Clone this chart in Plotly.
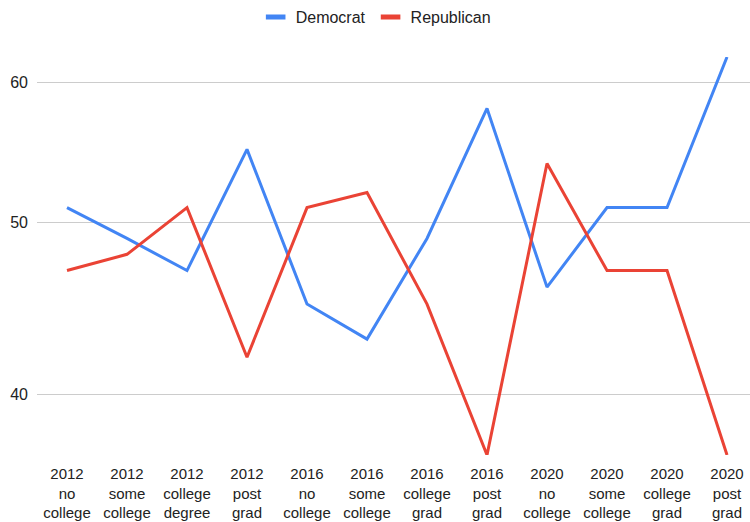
import plotly.graph_objects as go
import math

categories = ["2012<br>no<br>college", "2012<br>some<br>college", "2012<br>college<br>degree", "2012<br>post<br>grad",
              "2016<br>no<br>college", "2016<br>some<br>college", "2016<br>college<br>grad", "2016<br>post<br>grad",
              "2020<br>no<br>college", "2020<br>some<br>college", "2020<br>college<br>grad", "2020<br>post<br>grad"]
democrat = [51, 49, 47, 55, 45, 43, 49, 58, 46, 51, 51, 62]
republican = [47, 48, 51, 42, 51, 52, 45, 37, 54, 47, 47, 37]
y_ticks = [40, 50, 60]

BLUE = "#4285F4"
RED = "#EA4335"
FONT = "Liberation Sans, Arial, sans-serif"

xs = list(range(len(categories)))
fig = go.Figure()
fig.add_trace(go.Scatter(x=xs, y=democrat, mode="lines", line=dict(color=BLUE, width=3),
                         showlegend=False, hoverinfo="skip"))
fig.add_trace(go.Scatter(x=xs, y=republican, mode="lines", line=dict(color=RED, width=3),
                         showlegend=False, hoverinfo="skip"))
# legend swatches
fig.add_trace(go.Scatter(x=[None], y=[None], mode="markers", name="Democrat",
                         marker=dict(symbol="line-ew", size=14, line=dict(color=BLUE, width=5))))
fig.add_trace(go.Scatter(x=[None], y=[None], mode="markers", name="Republican",
                         marker=dict(symbol="line-ew", size=14, line=dict(color=RED, width=5))))

fig.update_layout(
    width=750, height=522,
    margin=dict(l=37, r=0, t=57, b=67),
    paper_bgcolor="white", plot_bgcolor="white",
    font=dict(family=FONT, size=16, color="#222222"),
    legend=dict(orientation="h", x=0.475, xanchor="center", y=1, yref="container", yanchor="top",
                font=dict(size=16, color="#222222"), itemwidth=30, bgcolor="rgba(0,0,0,0)"),
    showlegend=True,
)
fig.update_xaxes(range=[-0.5, 11.383], tickvals=xs, ticktext=categories, showgrid=False,
                 zeroline=False, showline=False, ticks="", tickfont=dict(size=15, color="#222222"),
                 tickangle=0, ticklabelstandoff=8)
fig.update_yaxes(type="log", range=[math.log10(37), math.log10(62)], tickvals=y_ticks,
                 ticktext=[str(v) for v in y_ticks], showgrid=True, gridcolor="#cccccc", gridwidth=1,
                 zeroline=False, showline=False, ticks="", ticklabelstandoff=8,
                 tickfont=dict(size=16, color="#222222"))

fig.write_html("out.html")
